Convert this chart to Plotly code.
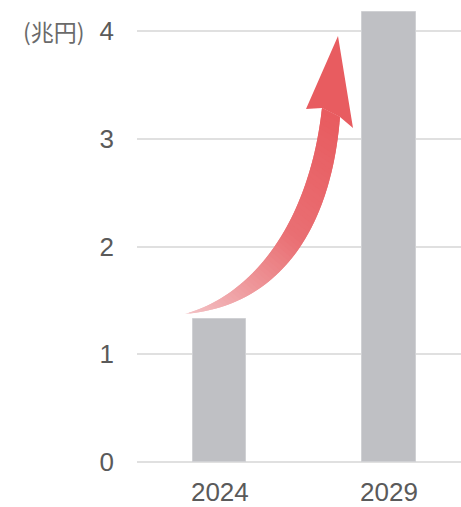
import numpy as np
import plotly.graph_objects as go

years = ["2024", "2029"]
values = [1.33, 4.18]
y_ticks = [0, 1, 2, 3, 4]
unit_label = "(兆円)"

W, H = 461, 507
ML, MR, MT, MB = 137, 0, 0, 45
YMAX = 4.288
XR = [-0.49, 1.426]

def px2paper(px, py):
    return (px - ML) / (W - ML - MR), (H - MB - py) / (H - MB - MT)

fig = go.Figure()
fig.add_trace(go.Bar(x=[0, 1], y=values, width=0.315,
                     marker=dict(color="#bfc0c4", line=dict(color="#d0d1d4", width=1))))

# decorative curved gradient arrow (pixel geometry -> paper)
def bez(p, t):
    p = np.array(p, dtype=float)
    t = t[:, None]
    return ((1 - t) ** 3) * p[0] + 3 * ((1 - t) ** 2) * t * p[1] + 3 * (1 - t) * t ** 2 * p[2] + t ** 3 * p[3]

N = 60
t = np.linspace(0, 1, N + 1)
left = bez([(185, 314), (262, 292), (311, 210), (322, 108)], t)
right = bez([(185, 314), (279, 306), (331, 230), (340, 117)], t)

c0 = np.array([244, 196, 199])
c1 = np.array([234, 112, 116])
c2 = np.array([232, 92, 96])
shapes = []
for i in range(N):
    f = (i + 0.5) / N
    if f < 0.55:
        c = c0 + (c1 - c0) * (f / 0.55)
    else:
        c = c1 + (c2 - c1) * ((f - 0.55) / 0.45)
    col = "rgb(%d,%d,%d)" % tuple(c.astype(int))
    j = min(i + 2, N)
    pts = [left[i], left[j], right[j], right[i]]
    pp = [px2paper(*q) for q in pts]
    path = "M " + " L ".join("%.5f,%.5f" % q for q in pp) + " Z"
    shapes.append(dict(type="path", xref="paper", yref="paper", path=path,
                       fillcolor=col, line=dict(width=0), layer="above"))
head = [(306, 109), (338, 36), (353, 128), (340, 117), (322, 108)]
pp = [px2paper(*q) for q in head]
path = "M " + " L ".join("%.5f,%.5f" % q for q in pp) + " Z"
shapes.append(dict(type="path", xref="paper", yref="paper", path=path,
                   fillcolor="rgb(232,92,96)", line=dict(width=0), layer="above"))

font = dict(family="Liberation Sans, Arial, sans-serif", size=26, color="#5a5a5a")

fig.update_layout(
    width=W, height=H,
    margin=dict(l=ML, r=MR, t=MT, b=MB, pad=0),
    paper_bgcolor="white", plot_bgcolor="white",
    showlegend=False,
    bargap=0,
    font=font,
    shapes=shapes,
    xaxis=dict(range=XR, tickmode="array", tickvals=[0, 1], ticktext=years,
               showgrid=False, zeroline=False, showline=False, ticks="",
               ticklabelstandoff=12, tickfont=font, fixedrange=True),
    yaxis=dict(range=[0, YMAX], tickmode="array", tickvals=y_ticks,
               ticktext=[str(v) for v in y_ticks],
               showgrid=True, gridcolor="#e0e0e0", gridwidth=2,
               zeroline=True, zerolinecolor="#e0e0e0", zerolinewidth=2,
               showline=False, ticks="",
               ticklabelstandoff=22, tickfont=font, fixedrange=True),
    annotations=[dict(text=unit_label, xref="paper", yref="paper",
                      x=px2paper(87, 0)[0], y=px2paper(0, 31)[1],
                      xanchor="right", yanchor="middle", showarrow=False,
                      font=dict(family="Noto Sans CJK JP, sans-serif", size=23, color="#6a6a6a"))],
)

fig.write_html("out.html", config={"displayModeBar": False})
